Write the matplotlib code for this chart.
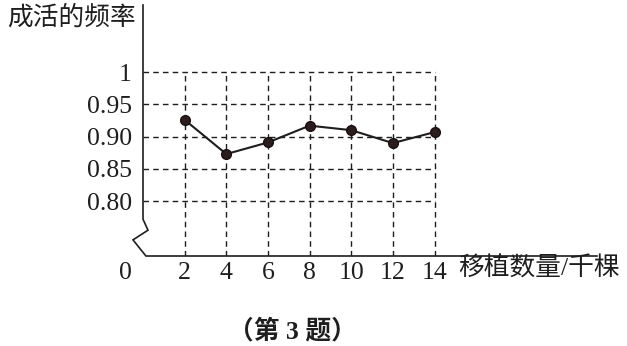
import matplotlib
matplotlib.use("Agg")
import matplotlib.pyplot as plt

# data
counts = [2, 4, 6, 8, 10, 12, 14]
freq = [0.926, 0.873, 0.891, 0.917, 0.910, 0.890, 0.907]
y_ticks = [0.80, 0.85, 0.90, 0.95, 1.0]
y_tick_labels = ["0.80", "0.85", "0.90", "0.95", "1"]
x_tick_labels = ["2", "4", "6", "8", "10", "12", "14"]

FAM = ["Liberation Serif", "Noto Sans CJK SC"]
INK = "#1e1e1e"

fig = plt.figure(figsize=(6.27, 3.46), dpi=100)
ax = fig.add_axes([143 / 627, 1 - 256 / 346, 454 / 627, 251 / 346])
xmin, xmax = 0, 21.8
ymin, ymax = 0.715, 1.104
ax.set_xlim(xmin, xmax)
ax.set_ylim(ymin, ymax)
for s in ax.spines.values():
    s.set_visible(False)

# dashed grid
dash = (0, (4, 3))
ax.hlines(y_ticks, 0, counts[-1], colors=INK, linewidth=1.0, linestyles=dash)
ax.vlines(counts, ymin, 1.0, colors=INK, linewidth=1.0, linestyles=dash)

# broken axes
ax.plot([0, 0, 0.24, -0.48, 0.14, xmax],
        [ymax, 0.772, 0.755, 0.740, ymin, ymin],
        color=INK, linewidth=1.2, clip_on=False, solid_joinstyle="miter")

# data
ax.plot(counts, freq, color=INK, linewidth=1.5, marker="o", markersize=7,
        markerfacecolor="#2b1d1d", markeredgecolor="#1a1010", zorder=5)

ax.set_xticks(counts)
ax.set_xticklabels(x_tick_labels)
ax.set_yticks(y_ticks)
ax.set_yticklabels(y_tick_labels)
ax.tick_params(length=0, labelsize=18.5, colors=INK)
ax.tick_params(axis="y", pad=8)
ax.tick_params(axis="x", pad=4)
for lab in ax.get_xticklabels() + ax.get_yticklabels():
    lab.set_family(FAM)

# "0" origin label
ax.annotate("0", xy=(0, ymin), xytext=(-8, -4), textcoords="offset points",
            ha="right", va="top", fontsize=18.5, family=FAM, color=INK,
            annotation_clip=False)

fig.text(7 / 627, 1 - 17 / 346, "成活的频率", ha="left", va="center",
         fontsize=18.5, family=FAM, color=INK, fontweight="light")
fig.text(458 / 627, 1 - 268 / 346, "移植数量/千棵", ha="left", va="center",
         fontsize=18.5, family=FAM, color=INK, fontweight="light")
fig.text(292 / 627, 1 - 331 / 346, "（第 3 题）", ha="center", va="center",
         fontsize=18.5, family=FAM, color=INK, fontweight="bold")

fig.savefig("out.png", dpi=100, facecolor="white")
